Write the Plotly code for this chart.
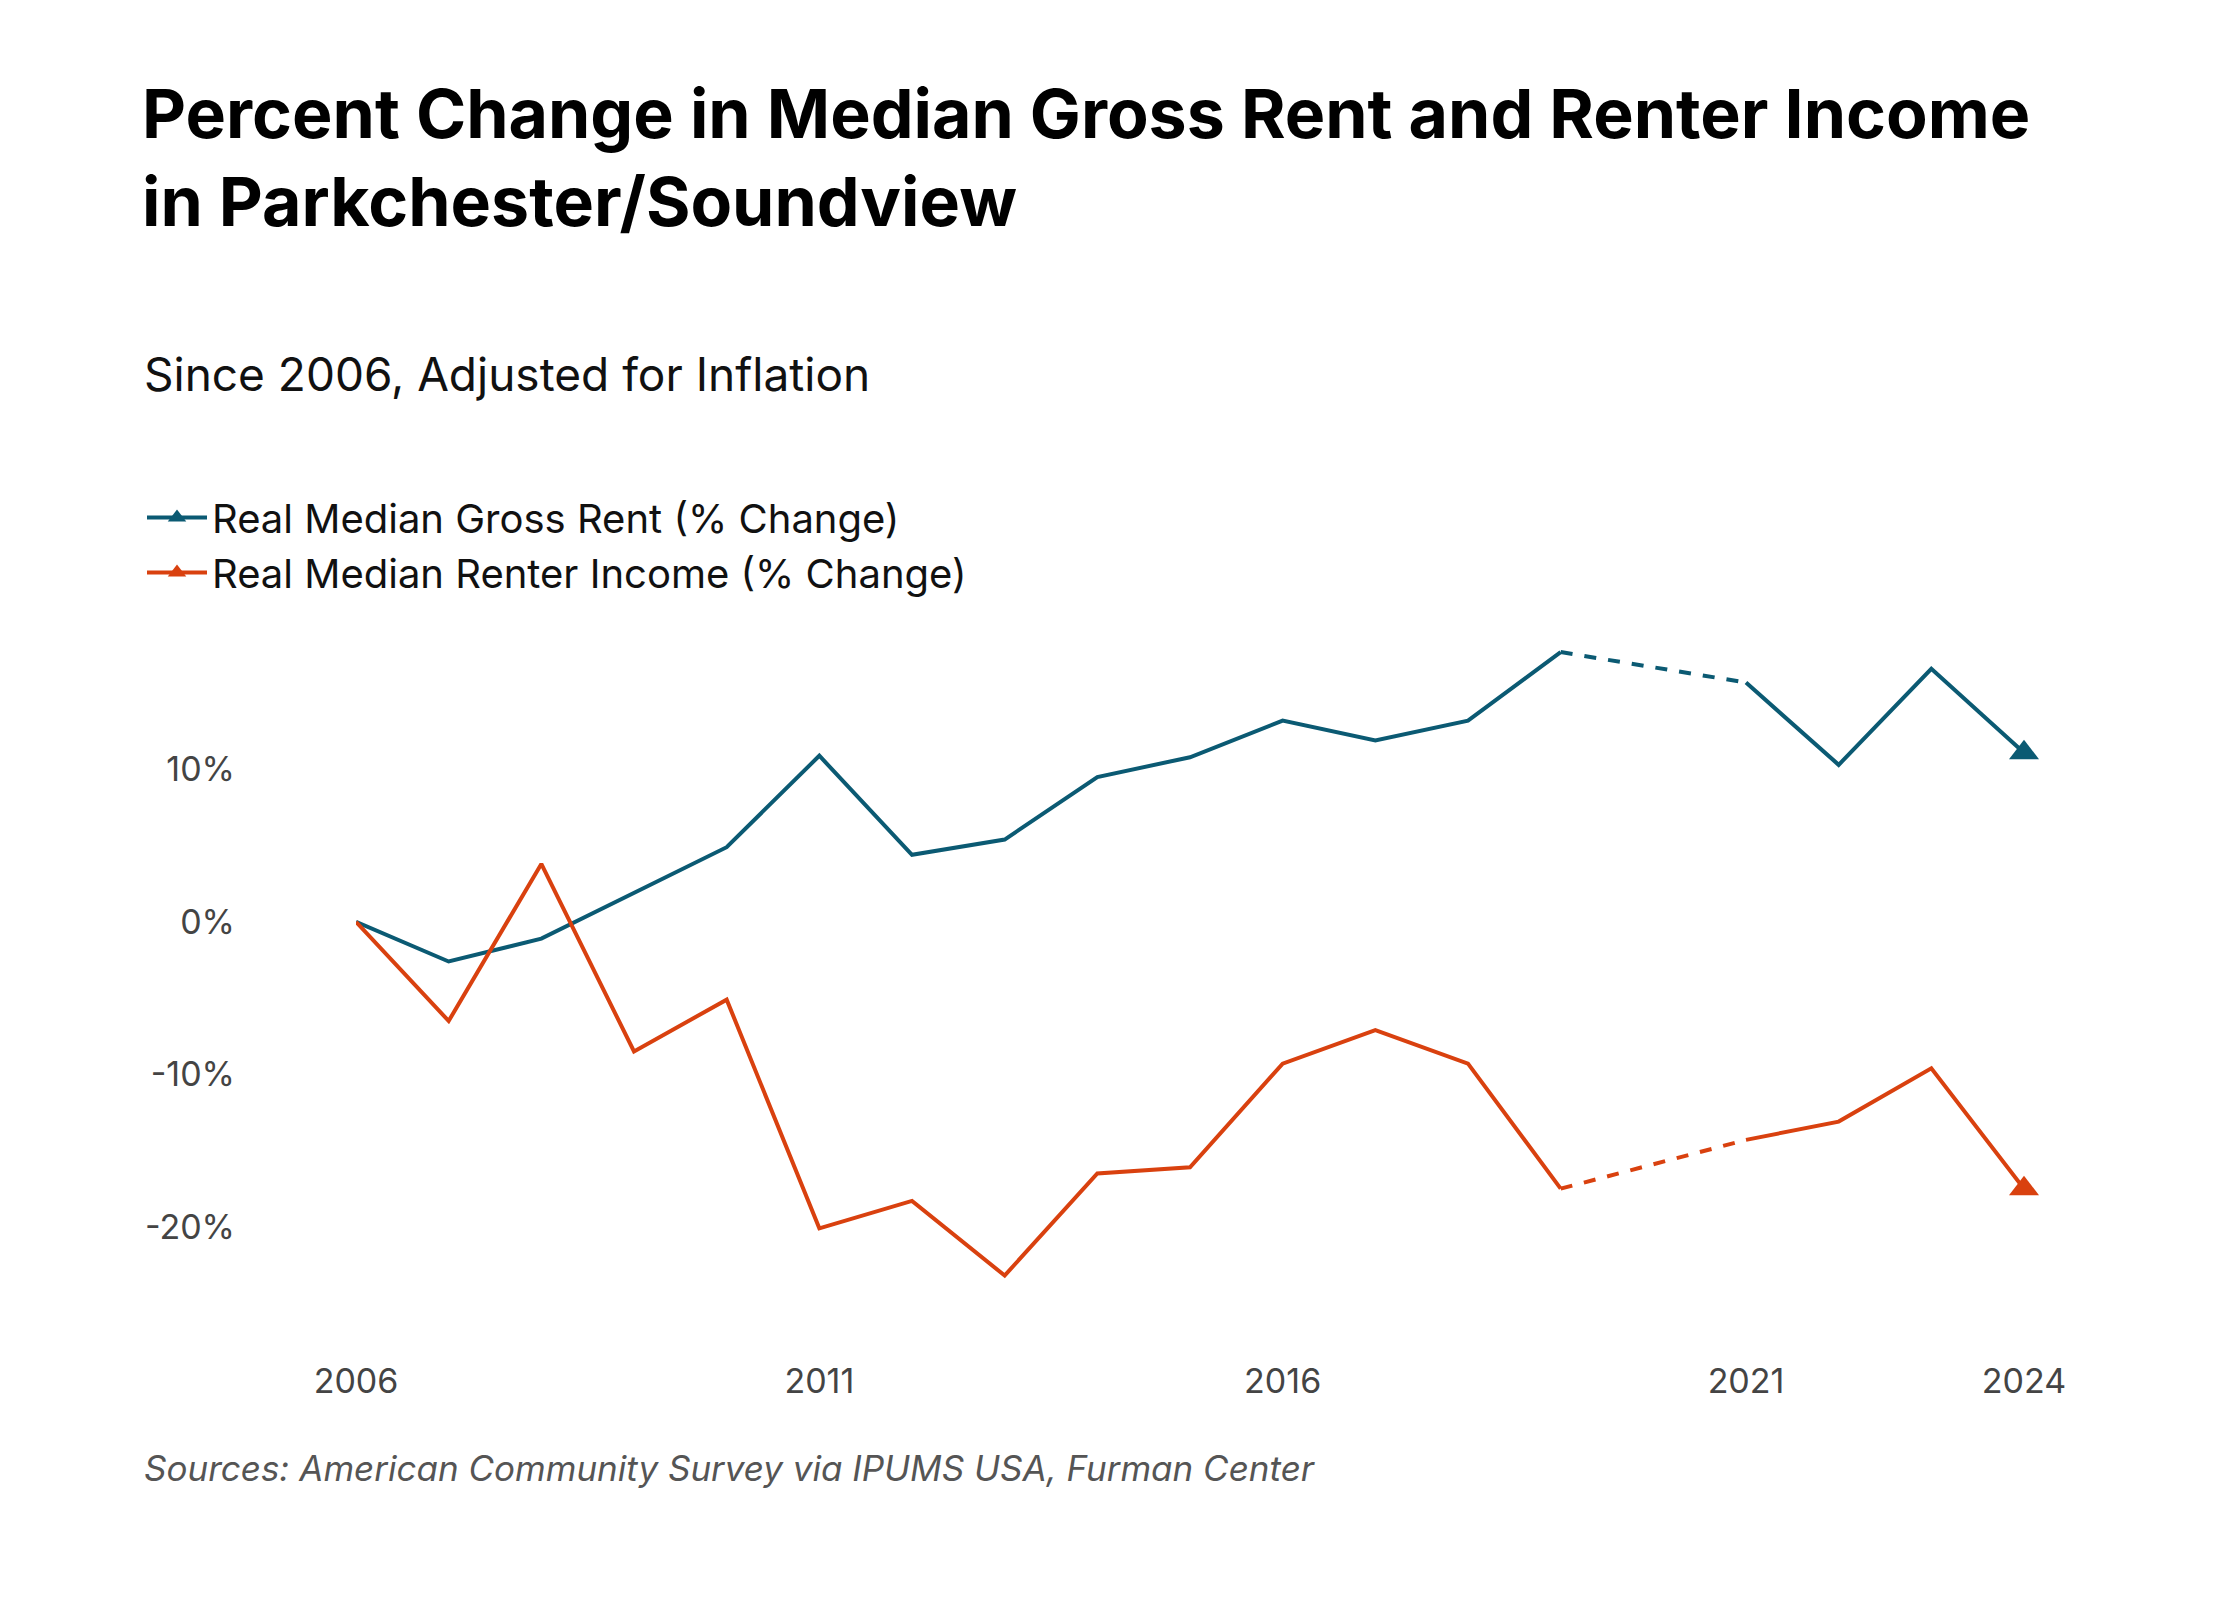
import plotly.graph_objects as go

years = list(range(2006, 2025))
rent = [0, -2.6, -1.1, 1.9, 4.9, 10.9, 4.4, 5.4, 9.5, 10.8, 13.2, 11.9, 13.2, 17.7,
        None, 15.7, 10.3, 16.6, 11.1]
income = [0, -6.5, 3.8, -8.5, -5.1, -20.1, -18.3, -23.2, -16.5, -16.1, -9.3, -7.1, -9.3, -17.5,
          None, -14.3, -13.1, -9.6, -17.5]
tick_years = [2006, 2011, 2016, 2021, 2024]
y_ticks = [-20, -10, 0, 10]
y_labels = ["-20%", "-10%", "0%", "10%"]

RENT_COLOR = "#0b5a73"
INCOME_COLOR = "#d9410f"
FONT = "Inter"

L, R, T, B = 348, 224, 602, 305
W, H = 2240, 1600

fig = go.Figure()
for name, vals, color in [
    ("Real Median Gross Rent (% Change)          ", rent, RENT_COLOR),
    ("Real Median Renter Income (% Change)", income, INCOME_COLOR),
]:
    fig.add_trace(go.Scatter(
        x=years, y=vals, mode="lines", connectgaps=False, showlegend=False,
        line={"color": color, "width": 4},
    ))
    # dashed bridge over the missing 2020 value
    i0, i1 = years.index(2019), years.index(2021)
    fig.add_trace(go.Scatter(
        x=[years[i0], years[i1]], y=[vals[i0], vals[i1]], mode="lines",
        line={"color": color, "width": 4, "dash": "dash"}, showlegend=False, hoverinfo="skip",
    ))
    fig.add_trace(go.Scatter(
        x=[years[-1]], y=[vals[-1]], mode="markers", showlegend=False, cliponaxis=False,
        marker={"symbol": "triangle-up", "size": 26, "color": color},
    ))
    # legend entry
    fig.add_trace(go.Scatter(
        x=[None], y=[None], mode="lines+markers", name=name,
        line={"color": color, "width": 4},
        marker={"symbol": "triangle-up", "size": 20, "color": color},
    ))

fig.update_layout(
    width=W, height=H, plot_bgcolor="white", paper_bgcolor="white",
    margin={"l": L, "r": R, "t": T, "b": B},
    font={"family": FONT, "color": "#111"},
    title={
        "text": "<b>Percent Change in Median Gross Rent and Renter Income<br>in Parkchester/Soundview</b>",
        "x": 134 / W, "xanchor": "left", "xref": "container",
        "y": 1 - 130 / H, "yanchor": "top", "yref": "container",
        "font": {"size": 68, "family": FONT, "color": "#000"},
    },
    legend={
        "orientation": "h", "x": 134 / W, "xref": "container", "xanchor": "left",
        "y": 1 - 537 / H, "yref": "container", "yanchor": "middle",
        "font": {"size": 40, "color": "#111"}, "itemwidth": 60,
    },
    xaxis={
        "range": [2006, 2024], "tickvals": tick_years, "showgrid": False, "zeroline": False,
        "showline": False, "ticks": "", "tickfont": {"size": 34, "color": "#444"},
        "ticklabelstandoff": 55,
    },
    yaxis={
        "range": [-25, 20], "tickvals": y_ticks, "ticktext": y_labels, "showgrid": False,
        "zeroline": False, "showline": False, "ticks": "", "tickfont": {"size": 34, "color": "#444"},
        "ticklabelstandoff": 120,
    },
    annotations=[
        {"text": "Since 2006, Adjusted for Inflation", "xref": "paper", "yref": "paper",
         "x": (134 - L) / (W - L - R), "y": 1 + (T - 357) / (H - T - B),
         "xanchor": "left", "yanchor": "middle", "showarrow": False,
         "font": {"size": 46, "color": "#111"}},
        {"text": "<i>Sources: American Community Survey via IPUMS USA, Furman Center</i>",
         "xref": "paper", "yref": "paper",
         "x": (134 - L) / (W - L - R), "y": -(1462 - (H - B)) / (H - T - B),
         "xanchor": "left", "yanchor": "middle", "showarrow": False,
         "font": {"size": 35, "color": "#555"}},
    ],
)

fig.write_html("out.html")
